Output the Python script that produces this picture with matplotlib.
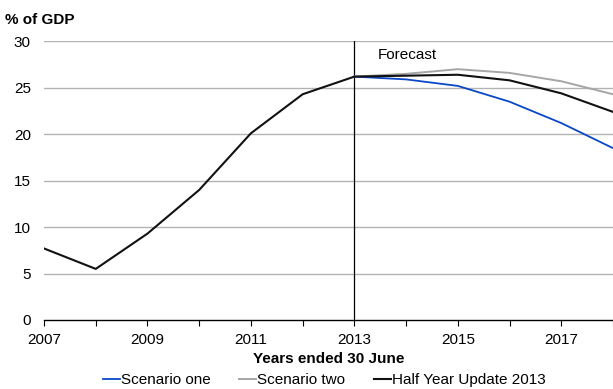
import matplotlib.pyplot as plt
from matplotlib.lines import Line2D

plt.rcParams['font.family'] = ['Liberation Sans', 'DejaVu Sans']

# Data
years_hist = [2007, 2008, 2009, 2010, 2011, 2012, 2013]
half_year_hist = [7.7, 5.5, 9.3, 14.0, 20.1, 24.3, 26.2]

years_fc = [2013, 2014, 2015, 2016, 2017, 2018]
half_year_fc = [26.2, 26.3, 26.4, 25.8, 24.4, 22.4]
scenario_one = [26.2, 25.9, 25.2, 23.5, 21.2, 18.5]
scenario_two = [26.2, 26.5, 27.0, 26.6, 25.7, 24.3]

x_tick_labels = [2007, 2009, 2011, 2013, 2015, 2017]
y_ticks = [0, 5, 10, 15, 20, 25, 30]

blue = '#0a47c8'
grey = '#a6a6a6'
fs = 11

fig = plt.figure(figsize=(6.13, 3.89), dpi=100)
ax = fig.add_axes([0.0718, 0.1774, 0.9282, 0.7164])

# grid
for y in y_ticks[1:]:
    ax.axhline(y, color='#b3b3b3', lw=1.0, zorder=1)

ax.plot(years_fc, scenario_two, color=grey, lw=1.4, zorder=3)
ax.plot(years_fc, scenario_one, color=blue, lw=1.3, zorder=4)
ax.plot(years_hist + years_fc[1:], half_year_hist + half_year_fc[1:],
        color='#111111', lw=1.5, zorder=5)

# forecast divider
ax.axvline(2013, color='black', lw=0.9, zorder=2)
ax.text(2013.45, 28.5, 'Forecast', fontsize=fs, va='center', ha='left')

ax.set_xlim(2007, 2018)
ax.set_ylim(0, 30)
ax.set_xticks(range(2007, 2019))
ax.set_xticklabels([str(y) if y in x_tick_labels else '' for y in range(2007, 2019)])
ax.set_yticks(y_ticks)

for s in ['top', 'right', 'left']:
    ax.spines[s].set_visible(False)
ax.spines['bottom'].set_linewidth(1.0)
ax.tick_params(axis='x', direction='out', length=4, width=0.8, labelsize=fs, pad=5.5)
ax.tick_params(axis='y', length=0, labelsize=fs, pad=9.5)

ax.set_xlabel('Years ended 30 June', fontsize=fs, fontweight='bold', labelpad=3.5)
fig.text(0.008, 0.948, '% of GDP', fontsize=fs, fontweight='bold', va='center')

handles = [Line2D([], [], color=blue, lw=1.3),
           Line2D([], [], color=grey, lw=1.4),
           Line2D([], [], color='#111111', lw=1.5)]
fig.legend(handles, ['Scenario one', 'Scenario two', 'Half Year Update 2013'],
           loc='center', bbox_to_anchor=(0.529, 0.023), ncol=3, frameon=False,
           fontsize=fs, handlelength=1.1, handletextpad=0.1, columnspacing=1.85,
           borderpad=0, borderaxespad=0)

fig.savefig('out.png', dpi=100)
